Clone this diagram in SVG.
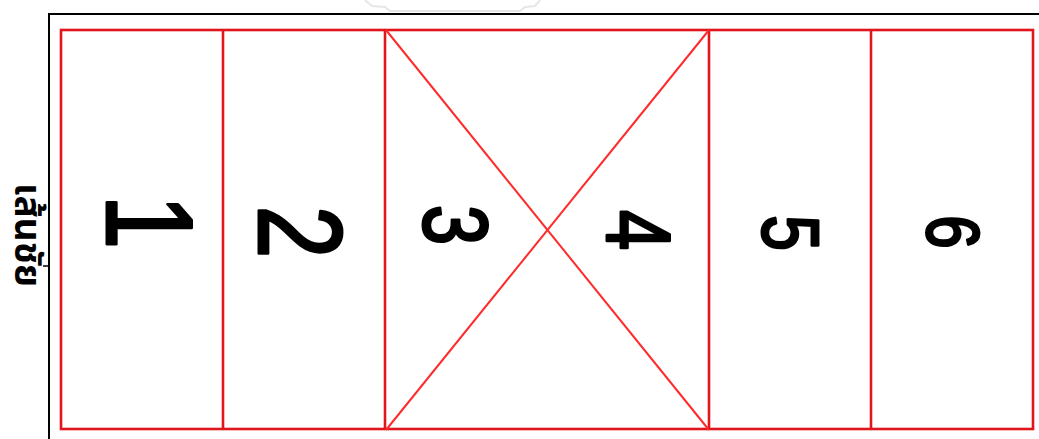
<svg xmlns="http://www.w3.org/2000/svg" width="1039" height="439" viewBox="0 0 1039 439">
<style>
.frame{fill:none;stroke:#000;stroke-width:2}
.lane{fill:none;stroke:#e0161c;stroke-width:2.6}
.diag{fill:none;stroke:#ff2a2a;stroke-width:2}
.num{font-family:"Liberation Sans",Arial,sans-serif;font-weight:normal;fill:#000;stroke:#000;stroke-width:3;stroke-linejoin:round;text-anchor:middle;dominant-baseline:central}
.lbl{font-family:"Noto Sans Thai","Noto Sans","DejaVu Sans",sans-serif;font-size:37px;font-weight:bold;fill:#000;text-anchor:middle}
</style>
<rect width="1039" height="439" fill="#fff"/>
<path d="M365 0 L372 6 L385 7 L390 11 L520 11 L525 7 L535 6 L540 0" fill="none" stroke="#e6e6e6" stroke-width="2"/>
<g id="frame">
<path class="frame" d="M49 439 V14 H1039"/>
<line x1="43" y1="266" x2="49" y2="266" stroke="#000" stroke-width="1.5"/>
</g>
<g id="baseline-label">
<text class="lbl" transform="translate(15,235) rotate(90)">เส้นชัย</text>
</g>
<g id="connectors">
<rect class="lane" x="61" y="30" width="972" height="399"/>
<line class="lane" x1="223" y1="30" x2="223" y2="429"/>
<line class="lane" x1="385" y1="30" x2="385" y2="429"/>
<line class="lane" x1="709" y1="30" x2="709" y2="429"/>
<line class="lane" x1="871" y1="30" x2="871" y2="429"/>
<line class="diag" x1="386" y1="30" x2="709" y2="430"/>
<line class="diag" x1="709" y1="30" x2="386" y2="430"/>
</g>
<g id="lane1"><text class="num" font-size="122" transform="translate(150,222) rotate(90) scale(0.8,1)">1</text></g>
<g id="lane2"><text class="num" font-size="118" transform="translate(300,232) rotate(90) scale(0.8,1)">2</text></g>
<g id="lane3"><text class="num" font-size="90" transform="translate(455,225) rotate(90) scale(0.8,1)">3</text></g>
<g id="lane4"><text class="num" font-size="90" transform="translate(638,230) rotate(90) scale(0.8,1)">4</text></g>
<g id="lane5"><text class="num" font-size="80" transform="translate(791,233) rotate(90) scale(0.8,1)">5</text></g>
<g id="lane6"><text class="num" font-size="74" transform="translate(953,232) rotate(90) scale(0.8,1)">6</text></g>
</svg>
